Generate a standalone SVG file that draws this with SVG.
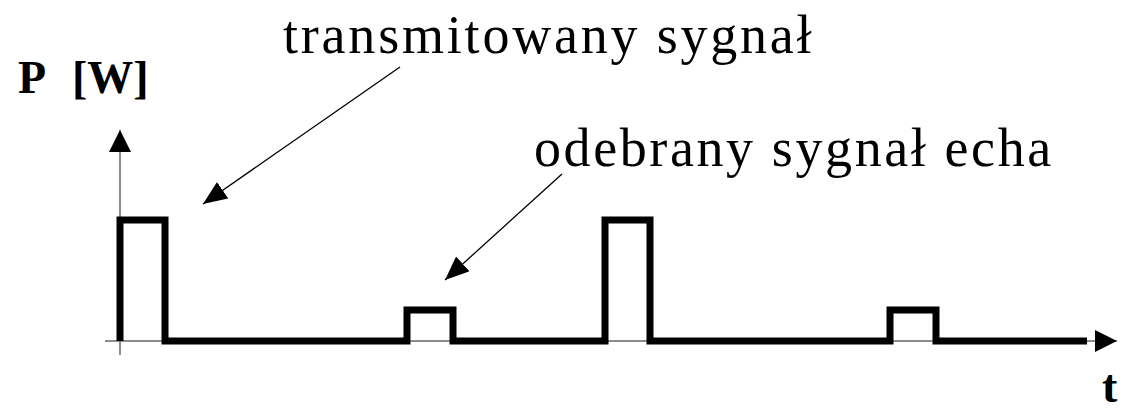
<svg xmlns="http://www.w3.org/2000/svg" width="1128" height="411" viewBox="0 0 1128 411">
  <style>
    .axis { stroke: #666; stroke-width: 1.5; fill: none; }
    .sig { stroke: #000; stroke-width: 7; fill: none; stroke-linejoin: miter; stroke-linecap: butt; }
    .ptr { stroke: #000; stroke-width: 1.3; fill: none; }
  </style>
  <defs>
    <marker id="head" markerUnits="userSpaceOnUse" viewBox="0 0 24 20" markerWidth="24" markerHeight="20" refX="24" refY="10" orient="auto">
      <path d="M0,0 L24,10 L0,20 z" fill="#000"/>
    </marker>
    <marker id="axhead" markerUnits="userSpaceOnUse" viewBox="0 0 22 22" markerWidth="22" markerHeight="22" refX="22" refY="11" orient="auto">
      <path d="M0,0 L22,11 L0,22 z" fill="#000"/>
    </marker>
  </defs>

  <g id="axes" font-family="Liberation Serif" font-size="46" font-weight="bold" fill="#000">
    <line class="axis" x1="120" y1="355" x2="120" y2="130" marker-end="url(#axhead)"/>
    <line class="axis" x1="105" y1="341" x2="1117" y2="341" marker-end="url(#axhead)"/>
    <text x="18" y="93">P <tspan x="72">[W]</tspan></text>
    <text x="1102" y="402">t</text>
  </g>

  <g id="signal">
    <path class="sig" d="M120,341 V220 H165 V341 H407 V310 H453 V341 H605 V220 H650 V341 H890 V310 H936 V341 H1087"/>
  </g>

  <g id="labels" font-family="Liberation Serif" font-size="54" fill="#000">
    <g id="label-transmitted">
      <text x="283" y="53" letter-spacing="2.8">transmitowany sygnał</text>
    </g>
    <g id="label-echo">
      <text x="534" y="166" letter-spacing="2.6">odebrany sygnał echa</text>
    </g>
  </g>

  <g id="connectors">
    <line class="ptr" x1="400" y1="67" x2="203" y2="204" marker-end="url(#head)"/>
    <line class="ptr" x1="562" y1="174" x2="445" y2="280" marker-end="url(#head)"/>
  </g>
</svg>
